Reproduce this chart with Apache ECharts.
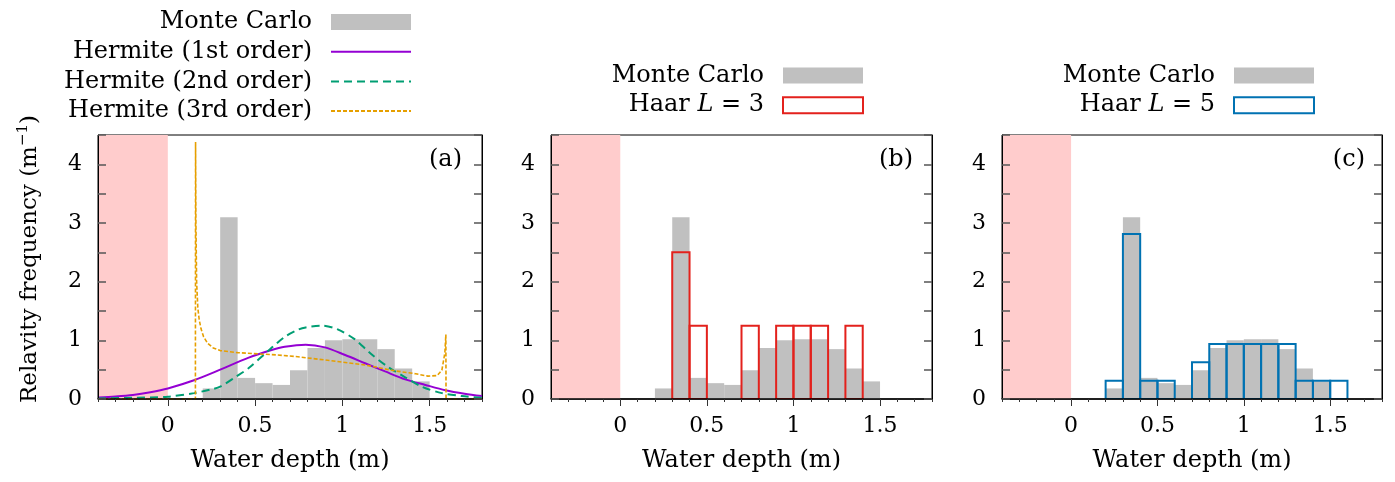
<!DOCTYPE html>
<html><head><meta charset="utf-8">
<script src="https://cdn.jsdelivr.net/npm/echarts@6/dist/echarts.min.js"></script>
<style>html,body{margin:0;padding:0;background:#fff}#c{width:1395px;height:482px}</style>
</head><body><div id="c"></div>
<script>
// ---------- data ----------
const binWidth = 0.1;
const mcBinStart = [0.2,0.3,0.4,0.5,0.6,0.7,0.8,0.9,1.0,1.1,1.2,1.3,1.4];
const monteCarlo = [0.18,3.10,0.36,0.27,0.24,0.49,0.87,1.00,1.02,1.02,0.85,0.52,0.30];
const haar3BinStart = [0.3,0.4,0.7,0.9,1.0,1.1,1.3];
const haar3 = [2.5,1.25,1.25,1.25,1.25,1.25,1.25];
const haar5BinStart = [0.2,0.3,0.4,0.5,0.7,0.8,0.9,1.0,1.1,1.2,1.3,1.4,1.5];
const haar5 = [0.3125,2.8125,0.3125,0.3125,0.625,0.9375,0.9375,0.9375,0.9375,0.9375,0.3125,0.3125,0.3125];
const hermite1X = [-0.4,-0.3,-0.2,-0.1,0.0,0.15,0.3,0.46,0.59,0.67,0.79,0.9,1.016,1.13,1.245,1.36,1.475,1.59,1.7,1.8];
const hermite1Y = [0.025,0.042,0.068,0.115,0.18,0.32,0.50,0.70,0.83,0.89,0.925,0.88,0.75,0.61,0.47,0.335,0.24,0.15,0.09,0.05];
const hermite2X = [-0.4,-0.2,0.0,0.15,0.25,0.30,0.39,0.46,0.59,0.67,0.745,0.79,0.88,0.97,1.07,1.16,1.26,1.36,1.455,1.57,1.685,1.8];
const hermite2Y = [0.01,0.02,0.04,0.10,0.165,0.21,0.38,0.52,0.86,1.06,1.18,1.22,1.25,1.19,1.02,0.78,0.55,0.37,0.21,0.10,0.05,0.02];
const hermite3X = [-0.4,0.158,0.159,0.161,0.165,0.172,0.18,0.19,0.205,0.228,0.26,0.3,0.4,0.516,0.63,0.745,0.9,1.13,1.3,1.42,1.49,1.543,1.57,1.587,1.593,1.594,1.8];
const hermite3Y = [0,0,4.38,3.0,2.0,1.55,1.35,1.2,1.06,0.95,0.87,0.825,0.79,0.77,0.75,0.72,0.665,0.58,0.48,0.43,0.39,0.40,0.49,0.78,1.10,0,0];
const shadedRange = [-0.4, 0.0];
const xMajorTicks = [0, 0.5, 1, 1.5];
const xTickLabels = [0, 0.5, 1, 1.5];
const xMinorTicks = [-0.4,-0.3,-0.2,-0.1,0,0.1,0.2,0.3,0.4,0.5,0.6,0.7,0.8,0.9,1.0,1.1,1.2,1.3,1.4,1.5,1.6,1.7,1.8];
const yTickLabels = [0, 1, 2, 3, 4];
const panelLabels = ['(a)', '(b)', '(c)'];

// ---------- styling ----------
const FONT = 'DejaVu Serif';
const GRAY = '#c0c0c0', PINK = '#ffcccc';
const PURPLE = '#9400d3', GREEN = '#009e73', ORANGE = '#e69f00';
const RED = '#e3211c', BLUE = '#0072b2';
const YMAX = 4.5;
const grids = [
  {left: 98, width: 384},
  {left: 551, width: 381},
  {left: 1002, width: 380}
];
const labelRight = [933, 482, 30];

function bins(starts, vals) { return starts.map((s, i) => [s, s + binWidth, vals[i]]); }
function pairs(xs, ys) { return xs.map((x, i) => [x, ys[i]]); }
function rectRender(style) {
  return function (params, api) {
    const p0 = api.coord([api.value(0), api.value(2)]);
    const p1 = api.coord([api.value(1), 0]);
    return {type: 'rect', shape: {x: p0[0], y: p0[1], width: p1[0] - p0[0], height: p1[1] - p0[1]},
      style: Object.assign({}, style)};
  };
}
const tickTxt = {fontFamily: FONT, fontSize: 22, color: '#000'};
const nameTxt = {fontFamily: FONT, fontSize: 24, color: '#000'};

const xAxis = [], yAxis = [], series = [], title = [];
grids.forEach((g, i) => {
  xAxis.push({gridIndex: i, type: 'value', min: -0.4, max: 1.8, position: 'bottom', z: 10,
    axisLine: {show: true, onZero: false, lineStyle: {color: '#000', width: 1.5}},
    axisTick: {show: true, inside: false, length: 7, customValues: xMajorTicks, lineStyle: {color: '#333', width: 1}},
    axisLabel: Object.assign({customValues: xTickLabels, margin: 16}, tickTxt),
    splitLine: {show: false},
    name: 'Water depth (m)', nameLocation: 'middle', nameGap: 50, nameTextStyle: nameTxt});
  xAxis.push({gridIndex: i, type: 'value', min: -0.4, max: 1.8, position: 'bottom', z: 10,
    axisLine: {show: false, onZero: false},
    axisTick: {show: true, inside: false, length: 3, customValues: xMinorTicks, lineStyle: {color: '#333', width: 1}},
    axisLabel: {show: false}, splitLine: {show: false}});
  const yl = {gridIndex: i, type: 'value', min: 0, max: YMAX, interval: 0.5, position: 'left', z: 10,
    axisLine: {show: true, onZero: false, lineStyle: {color: '#000', width: 1}},
    axisTick: {show: true, inside: true, length: 8, lineStyle: {color: '#555', width: 1.5}},
    axisLabel: Object.assign({customValues: yTickLabels, margin: 16}, tickTxt),
    splitLine: {show: false}};
  if (i === 0) {
    yl.name = '{a|Relavity frequency (m}{s|−1}{a|)}';
    yl.nameLocation = 'middle'; yl.nameRotate = 90; yl.nameGap = 56;
    yl.nameTextStyle = Object.assign({}, tickTxt, {padding: [0, 0, 0, 16], rich: {
      a: {fontFamily: FONT, fontSize: 23, color: '#000', lineHeight: 26, verticalAlign: 'bottom'},
      s: {fontFamily: FONT, fontSize: 15, color: '#000', lineHeight: 26, verticalAlign: 'top'}}});
  }
  yAxis.push(yl);
  yAxis.push({gridIndex: i, type: 'value', min: 0, max: YMAX, interval: 0.5, position: 'right', z: 10,
    axisLine: {show: true, onZero: false, lineStyle: {color: '#000', width: 1}},
    axisTick: {show: true, inside: true, length: 8, lineStyle: {color: '#555', width: 1.5}},
    axisLabel: {show: false}, splitLine: {show: false}});
  // shaded (infeasible) region, drawn as a filled area through the axes
  series.push({type: 'line', name: 'shade', xAxisIndex: 2 * i, yAxisIndex: 2 * i, silent: true, z: 1,
    symbol: 'none', lineStyle: {width: 0, opacity: 0}, areaStyle: {color: PINK, opacity: 1},
    data: [[shadedRange[0], YMAX], [shadedRange[1], YMAX]]});
  series.push({type: 'custom', name: 'Monte Carlo', xAxisIndex: 2 * i, yAxisIndex: 2 * i, silent: true, clip: true, z: 2,
    itemStyle: {color: GRAY},
    renderItem: rectRender({fill: GRAY, stroke: null, lineWidth: 0}), encode: {x: [0, 1], y: 2},
    data: bins(mcBinStart, monteCarlo)});
  title.push({text: panelLabels[i], right: labelRight[i], top: 148, padding: 0,
    textStyle: {fontFamily: FONT, fontSize: 24, fontWeight: 'normal', color: '#000'}});
});

series.push({type: 'line', name: 'Hermite (1st order)', xAxisIndex: 0, yAxisIndex: 0, symbol: 'none', smooth: 0.3, z: 3,
  lineStyle: {color: PURPLE, width: 2}, itemStyle: {color: PURPLE}, data: pairs(hermite1X, hermite1Y), silent: true});
series.push({type: 'line', name: 'Hermite (2nd order)', xAxisIndex: 0, yAxisIndex: 0, symbol: 'none', smooth: 0.3, z: 3,
  lineStyle: {color: GREEN, width: 2, type: [8, 5]}, itemStyle: {color: GREEN}, data: pairs(hermite2X, hermite2Y), silent: true});
series.push({type: 'line', name: 'Hermite (3rd order)', xAxisIndex: 0, yAxisIndex: 0, symbol: 'none', smooth: false, z: 3,
  lineStyle: {color: ORANGE, width: 1.6, type: [4, 2]}, itemStyle: {color: ORANGE}, data: pairs(hermite3X, hermite3Y), silent: true});
series.push({type: 'custom', name: 'Haar L=3', xAxisIndex: 2, yAxisIndex: 2, silent: true, clip: true, z: 3,
  itemStyle: {color: 'rgba(0,0,0,0)', borderColor: RED, borderWidth: 2},
  renderItem: rectRender({fill: 'none', stroke: RED, lineWidth: 2}), encode: {x: [0, 1], y: 2},
  data: bins(haar3BinStart, haar3)});
series.push({type: 'custom', name: 'Haar L=5', xAxisIndex: 4, yAxisIndex: 4, silent: true, clip: true, z: 3,
  itemStyle: {color: 'rgba(0,0,0,0)', borderColor: BLUE, borderWidth: 2},
  renderItem: rectRender({fill: 'none', stroke: BLUE, lineWidth: 2}), encode: {x: [0, 1], y: 2},
  data: bins(haar5BinStart, haar5)});

const legendText = {fontFamily: FONT, fontSize: 24, color: '#000', lineHeight: 22, padding: [0, 14, 0, 0],
  rich: {n: {fontFamily: FONT, fontSize: 24, color: '#000', lineHeight: 22},
         i: {fontFamily: FONT, fontSize: 24, color: '#000', lineHeight: 22, fontStyle: 'italic'}}};
const legendBase = {orient: 'vertical', align: 'right', padding: 0, itemGap: 5.7, itemWidth: 80, itemHeight: 16,
  selectedMode: false, textStyle: legendText,
  formatter: function (name) {
    if (name.indexOf('Haar') === 0) return '{n|Haar }{i|L}{n| = ' + name.slice(-1) + '}';
    return name;
  }};
const mcItem = {name: 'Monte Carlo', icon: 'rect', itemStyle: {color: GRAY, borderWidth: 0}};
const noSym = {opacity: 0, color: 'rgba(0,0,0,0)', borderWidth: 0};
const legend = [
  Object.assign({}, legendBase, {right: 983, top: 10,
    data: [mcItem,
      {name: 'Hermite (1st order)', itemStyle: noSym},
      {name: 'Hermite (2nd order)', itemStyle: noSym},
      {name: 'Hermite (3rd order)', itemStyle: noSym}]}),
  Object.assign({}, legendBase, {right: 531, top: 63.5,
    data: [mcItem, {name: 'Haar L=3', icon: 'rect', itemStyle: {color: '#fff', borderColor: RED, borderWidth: 2}}]}),
  Object.assign({}, legendBase, {right: 80, top: 63.5,
    data: [mcItem, {name: 'Haar L=5', icon: 'rect', itemStyle: {color: '#fff', borderColor: BLUE, borderWidth: 2}}]})
];

const chart = echarts.init(document.getElementById('c'));
chart.setOption({
  animation: false,
  backgroundColor: '#fff',
  title: title,
  legend: legend,
  grid: grids.map(g => ({left: g.left, width: g.width, top: 135, bottom: 83, show: true, borderColor: '#000', borderWidth: 1, containLabel: false})),
  xAxis: xAxis, yAxis: yAxis, series: series
});
</script></body></html>
